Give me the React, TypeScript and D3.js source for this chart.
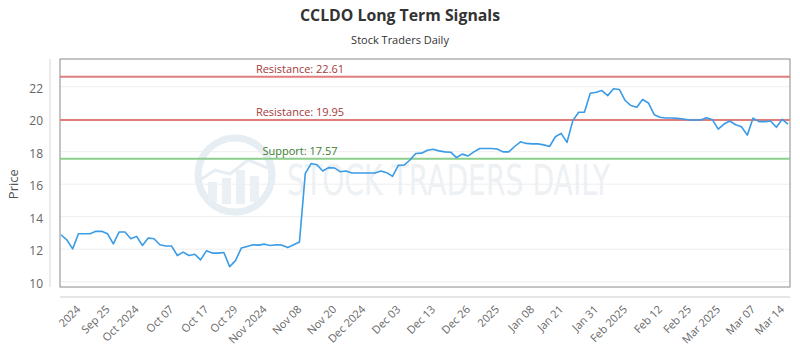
import React from 'react';
import * as d3 from 'd3';

// closing prices, one per trading day
const prices = [
  12.89, 12.58, 12.02, 12.95, 12.95, 12.95, 13.1, 13.1, 12.95, 12.33,
  13.06, 13.06, 12.64, 12.79, 12.23, 12.69, 12.64, 12.27, 12.2, 12.2,
  11.61, 11.82, 11.61, 11.69, 11.34, 11.9, 11.76, 11.76, 11.8, 10.93,
  11.3, 12.07, 12.17, 12.27, 12.25, 12.31, 12.23, 12.27, 12.25, 12.1,
  12.27, 12.44, 16.65, 17.27, 17.2, 16.81, 17.02, 17.0, 16.77, 16.81,
  16.69, 16.69, 16.69, 16.69, 16.69, 16.81, 16.71, 16.48, 17.16, 17.18,
  17.49, 17.89, 17.91, 18.09, 18.15, 18.05, 17.99, 17.97, 17.64, 17.85,
  17.74, 17.99, 18.2, 18.2, 18.2, 18.17, 17.99, 17.99, 18.32, 18.61,
  18.51, 18.48, 18.48, 18.42, 18.32, 18.92, 19.13, 18.57, 19.91, 20.43,
  20.43, 21.6, 21.66, 21.76, 21.45, 21.87, 21.83, 21.15, 20.84, 20.74,
  21.21, 21.0, 20.28, 20.12, 20.07, 20.07, 20.05, 20.01, 19.95, 19.95,
  19.95, 20.09, 19.97, 19.39, 19.7, 19.89, 19.66, 19.54, 19.02, 20.07,
  19.85, 19.85, 19.89, 19.5, 19.99, 19.7,
];

const tickLabels = [
  '2024', 'Sep 25', 'Oct 2024', 'Oct 07', 'Oct 17', 'Oct 29', 'Nov 2024', 'Nov 08',
  'Nov 20', 'Dec 2024', 'Dec 03', 'Dec 13', 'Dec 26', '2025', 'Jan 08', 'Jan 21',
  'Jan 31', 'Feb 2025', 'Feb 12', 'Feb 25', 'Mar 2025', 'Mar 07', 'Mar 14',
];
// index into prices where each label sits
const tickIdx = [4, 9, 14, 20, 26, 31, 36, 42, 48, 53, 59, 65, 71, 76, 82, 87, 93, 98, 104, 109, 114, 120, 125];

const yTicks = [10, 12, 14, 16, 18, 20, 22];

const levelNames = ['Resistance', 'Resistance', 'Support'];
const levelValues = [22.61, 19.95, 17.57];
const levelLine = ['#e07e7e', '#e07e7e', '#8ccf8c'];
const levelText = ['#a33a3a', '#a33a3a', '#3d7d32'];

const W = 800;
const H = 350;
const plot = { left: 60, right: 790, top: 59, bottom: 287 };

export default function App() {
  const x = d3.scaleLinear().domain([0, prices.length - 1]).range([61, 788]);
  const y = d3.scaleLinear().domain([10, 22]).range([281.7, 86.7]);

  const line = d3.line<number>()
    .x((_, i) => x(i))
    .y(d => y(d));

  const font = "'Open Sans', sans-serif";

  return (
    <div style={{ position: 'absolute', left: 0, top: 0 }}>
      <svg width={W} height={H} style={{ display: 'block', background: '#fff' }} fontFamily={font}>
        {/* titles */}
        <text x={400} y={21} textAnchor="middle" fontSize={16} fontWeight={700} fill="#333"
          textLength={200} lengthAdjust="spacingAndGlyphs">
          CCLDO Long Term Signals
        </text>
        <text x={400} y={44} textAnchor="middle" fontSize={11} fill="#333">
          Stock Traders Daily
        </text>

        {/* gridlines */}
        {yTicks.map(t => (
          <line key={t} x1={plot.left} x2={plot.right} y1={y(t)} y2={y(t)} stroke="#eeeeee" strokeWidth={1} />
        ))}

        {/* watermark */}
        <g>
          <circle cx={235} cy={175} r={37} fill="none" stroke="#e6edf3" strokeWidth={7} />
          <rect x={208} y={182} width={9} height={20} fill="#ebf0f4" />
          <rect x={222} y={178} width={9} height={26} fill="#ebf0f4" />
          <rect x={236} y={170} width={9} height={34} fill="#ebf0f4" />
          <rect x={250} y={176} width={9} height={26} fill="#ebf0f4" />
          <path d="M200,180 L215,170 L230,174 L248,160 L268,168" fill="none" stroke="#e6edf3" strokeWidth={3} />
          <text x={287} y={195} fontSize={42} fontWeight={400} fill="#edf1f4" textLength={323}
            lengthAdjust="spacingAndGlyphs" fontFamily="'DejaVu Sans Condensed', sans-serif">
            STOCK TRADERS DAILY
          </text>
        </g>

        {/* frame */}
        <rect x={plot.left} y={plot.top} width={plot.right - plot.left} height={plot.bottom - plot.top}
          fill="none" stroke="#8a8a8a" strokeWidth={1} />

        {/* axis lines */}
        <line x1={50} x2={50} y1={plot.top} y2={plot.bottom} stroke="#d6d6d6" />
        <line x1={plot.left} x2={plot.right} y1={297} y2={297} stroke="#cccccc" />

        {/* support / resistance */}
        {levelValues.map((v, i) => (
          <g key={i}>
            <line x1={plot.left} x2={plot.right} y1={y(v)} y2={y(v)} stroke={levelLine[i]} strokeWidth={2} />
            <text x={300} y={y(v) - 4} textAnchor="middle" fontSize={11} fill={levelText[i]}>
              {`${levelNames[i]}: ${v.toFixed(2)}`}
            </text>
          </g>
        ))}

        {/* price line */}
        <path d={line(prices) || ''} fill="none" stroke="#3a9be6" strokeWidth={1.6} strokeLinejoin="round" />

        {/* y axis */}
        {yTicks.map(t => (
          <text key={t} x={43} y={y(t)} dy="0.5em" textAnchor="end" fontSize={12} fill="#666">
            {t}
          </text>
        ))}
        <text transform={`translate(18,${y(16)}) rotate(-90)`} textAnchor="middle" fontSize={13} fill="#555">
          Price
        </text>

        {/* x axis labels */}
        {tickLabels.map((lab, i) => (
          <text key={lab} transform={`translate(${x(tickIdx[i]) - 3},310) rotate(-45)`} textAnchor="end"
            fontSize={11} fill="#666">
            {lab}
          </text>
        ))}
      </svg>
    </div>
  );
}
